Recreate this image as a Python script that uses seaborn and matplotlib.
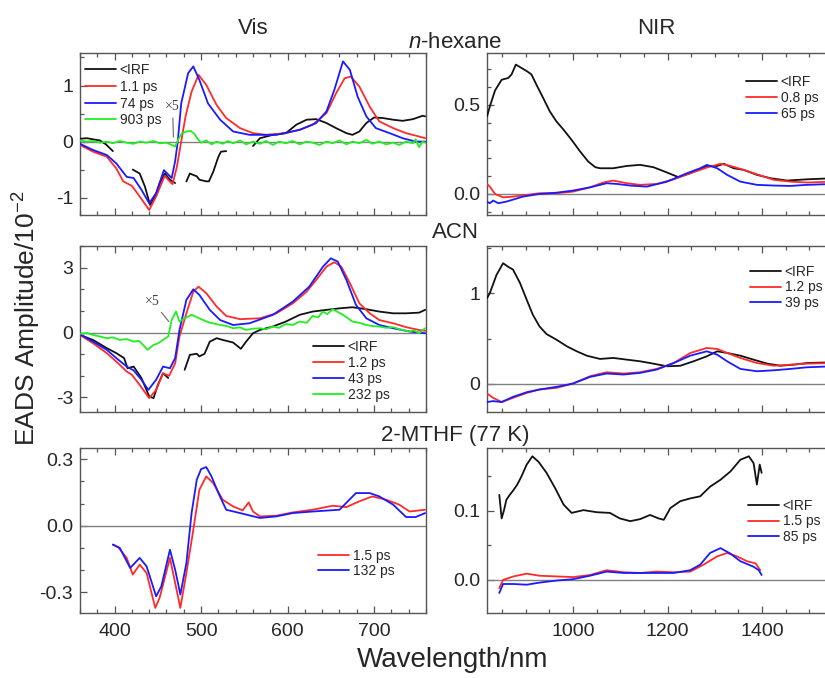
import matplotlib
matplotlib.use("Agg")
import matplotlib.pyplot as plt
import seaborn as sns
from matplotlib.lines import Line2D
from matplotlib.ticker import MultipleLocator, FormatStrFormatter

sns.set_style("ticks")
plt.rcParams["font.family"] = ["Liberation Sans", "DejaVu Sans"]
plt.rcParams["axes.unicode_minus"] = False
plt.rcParams["mathtext.fontset"] = "custom"
plt.rcParams["mathtext.rm"] = "Liberation Sans"
plt.rcParams["mathtext.it"] = "Liberation Sans:italic"

# ---------------- n-hexane, visible ----------------
hexv_labels = ["<IRF", "1.1 ps", "74 ps", "903 ps"]
hexv_irf_wl = [[360, 368, 375, 383, 390, 398],
               [421, 429, 435, 441, 447, 452, 458, 464, 470],
               [483, 487, 495, 498, 506, 509, 514, 520, 523, 529],
               [560, 568, 583, 598, 610, 622, 633, 645, 656, 668, 675, 683, 691, 700, 710, 722, 733, 745, 756, 759]]
hexv_irf_amp = [[0.05, 0.06, 0.04, 0.02, -0.05, -0.17],
                [-0.5, -0.57, -0.80, -1.13, -0.98, -0.75, -0.57, -0.68, -0.74],
                [-0.71, -0.57, -0.62, -0.68, -0.71, -0.71, -0.54, -0.27, -0.18, -0.17],
                [-0.08, 0.06, 0.12, 0.15, 0.30, 0.39, 0.40, 0.33, 0.24, 0.15, 0.12, 0.18, 0.33, 0.43, 0.42, 0.39, 0.37, 0.40, 0.46, 0.45]]
hexv_fast_wl = [360, 375, 391, 402, 410, 420, 429, 440, 448, 458, 463, 467, 472, 477, 482, 489, 497, 506, 518, 529,
                545, 560, 575, 598, 614, 629, 645, 656, 666, 673, 683, 695, 706, 722, 737, 752, 759]
hexv_fast_amp = [-0.06, -0.18, -0.27, -0.48, -0.71, -0.79, -0.98, -1.22, -0.98, -0.61, -0.70, -0.76, -0.45, 0.0, 0.45,
                 0.89, 1.19, 1.01, 0.65, 0.42, 0.24, 0.15, 0.12, 0.15, 0.21, 0.30, 0.51, 0.86, 1.13, 1.16, 0.98, 0.62,
                 0.36, 0.24, 0.15, 0.09, 0.06]
hexv_mid_wl = [360, 375, 391, 402, 414, 422, 431, 440, 448, 457, 466, 470, 473, 477, 485, 491, 498, 508, 522, 537,
               556, 587, 614, 633, 645, 654, 664, 672, 681, 691, 702, 718, 733, 748, 759]
hexv_mid_amp = [-0.04, -0.15, -0.24, -0.39, -0.63, -0.65, -0.86, -1.10, -0.92, -0.51, -0.65, -0.35, 0.0, 0.68, 1.22,
                1.34, 1.10, 0.68, 0.39, 0.18, 0.12, 0.12, 0.21, 0.33, 0.54, 0.92, 1.43, 1.28, 0.80, 0.45, 0.24, 0.15,
                0.06, 0.0, 0.0]
hexv_slow_wl = [360, 368, 375, 383, 391, 398, 406, 414, 422, 429, 437, 445, 452, 460, 466, 470, 474, 478, 483, 488,
                492, 496, 500, 506, 512, 518, 525, 531, 537, 545, 552, 560, 568, 575, 583, 590, 598, 606, 614, 622,
                629, 637, 645, 652, 660, 668, 675, 683, 691, 698, 706, 714, 722, 729, 737, 745, 748, 752, 756, 759]
hexv_slow_amp = [0.02, 0.0, 0.01, -0.02, 0.0, -0.03, 0.01, -0.02, -0.04, 0.0, -0.02, 0.01, -0.03, -0.02, -0.06, -0.09,
                 0.05, 0.15, 0.18, 0.19, 0.14, 0.05, -0.02, 0.02, -0.05, 0.0, -0.04, 0.01, -0.03, 0.02, -0.05, 0.0,
                 -0.04, 0.01, -0.06, 0.0, -0.03, 0.01, -0.05, 0.0, -0.02, -0.06, 0.0, -0.03, 0.02, -0.05, 0.0, -0.03,
                 0.03, -0.04, 0.0, -0.05, -0.02, -0.06, 0.0, -0.03, 0.04, -0.10, 0.0, -0.02]

# ---------------- ACN, visible ----------------
acnv_labels = ["<IRF", "1.2 ps", "43 ps", "232 ps"]
acnv_irf_wl = [[360, 375, 391, 402, 411, 415, 422, 431, 440, 445, 450, 456, 462],
               [481, 487, 495, 498, 504, 510, 518, 525, 537, 546, 552, 560, 568, 583, 598, 614, 629, 645, 660, 675,
                691, 706, 722, 737, 752, 759]]
acnv_irf_amp = [[-0.11, -0.34, -0.72, -0.95, -1.18, -1.65, -1.57, -2.1, -2.95, -3.03, -2.42, -1.88, -2.1],
                [-1.72, -1.03, -0.98, -1.1, -0.98, -0.42, -0.26, -0.34, -0.46, -0.75, -0.42, -0.03, 0.12, 0.28,
                 0.51, 0.82, 0.97, 1.05, 1.12, 1.17, 1.08, 0.97, 0.89, 0.89, 0.92, 1.05]]
acnv_fast_wl = [360, 375, 391, 402, 414, 420, 429, 440, 448, 456, 463, 470, 475, 483, 491, 497, 506, 518, 529, 545,
                568, 587, 606, 622, 633, 645, 654, 662, 672, 683, 695, 706, 722, 737, 752, 759]
acnv_fast_amp = [-0.11, -0.49, -0.95, -1.34, -1.8, -1.95, -2.42, -3.03, -2.65, -1.88, -2.0, -1.42, -0.18, 0.89, 1.89,
                 2.12, 1.82, 1.2, 0.77, 0.62, 0.66, 0.89, 1.35, 1.89, 2.43, 3.05, 3.25, 3.05, 2.28, 1.35, 0.89, 0.58,
                 0.43, 0.25, 0.12, 0.08]
acnv_mid_wl = [360, 375, 391, 402, 414, 422, 431, 439, 448, 456, 464, 470, 475, 483, 491, 498, 510, 522, 537, 556,
               583, 606, 625, 641, 650, 658, 668, 679, 691, 706, 722, 741, 759]
acnv_mid_amp = [-0.08, -0.42, -0.8, -1.18, -1.57, -1.75, -2.18, -2.65, -2.18, -1.57, -1.65, -1.18, 0.12, 1.51, 2.0,
                1.74, 1.05, 0.58, 0.35, 0.43, 0.82, 1.43, 2.12, 3.05, 3.43, 3.28, 2.43, 1.28, 0.66, 0.35, 0.2, 0.05,
                -0.03]
acnv_slow_wl = [360, 368, 375, 383, 391, 398, 406, 414, 422, 428, 433, 438, 445, 450, 456, 462, 466, 471, 475, 481,
                489, 498, 504, 510, 522, 530, 537, 545, 552, 560, 568, 575, 583, 590, 598, 606, 614, 622, 629, 635,
                641, 646, 652, 658, 664, 675, 683, 691, 698, 706, 714, 722, 730, 741, 746, 752, 759]
acnv_slow_amp = [-0.06, -0.02, -0.11, -0.18, -0.26, -0.22, -0.34, -0.30, -0.42, -0.38, -0.57, -0.8, -0.57, -0.50,
                 -0.34, -0.18, 0.58, 0.97, 0.51, 0.66, 0.82, 0.66, 0.55, 0.46, 0.35, 0.30, 0.2, 0.24, 0.12, 0.18, 0.2,
                 0.15, 0.28, 0.22, 0.4, 0.35, 0.51, 0.45, 0.77, 0.70, 0.97, 0.85, 1.08, 0.95, 0.82, 0.51, 0.45, 0.35,
                 0.30, 0.28, 0.22, 0.25, 0.15, 0.05, 0.10, -0.03, 0.2]

# ---------------- 2-MTHF (77 K), visible ----------------
mthv_labels = ["1.5 ps", "132 ps"]
mthv_fast_wl = [398, 404, 414, 421, 429, 437, 447, 452, 464, 470, 476, 483, 491, 498, 506, 514, 525, 537, 548, 555,
                560, 568, 587, 606, 629, 652, 668, 683, 698, 714, 729, 741, 759]
mthv_fast_amp = [-0.085, -0.096, -0.145, -0.22, -0.175, -0.213, -0.37, -0.325, -0.145, -0.258, -0.37, -0.213, -0.018,
                 0.162, 0.222, 0.192, 0.117, 0.087, 0.069, 0.105, 0.064, 0.042, 0.045, 0.06, 0.072, 0.09, 0.084, 0.11,
                 0.132, 0.117, 0.095, 0.064, 0.072]
mthv_slow_wl = [398, 406, 418, 429, 437, 448, 454, 464, 470, 476, 483, 489, 495, 500, 506, 512, 520, 529, 545, 568,
                587, 606, 629, 660, 679, 695, 706, 722, 737, 748, 759]
mthv_slow_amp = [-0.085, -0.1, -0.19, -0.145, -0.183, -0.318, -0.273, -0.108, -0.198, -0.31, -0.168, 0.057, 0.207,
                 0.255, 0.264, 0.222, 0.147, 0.072, 0.057, 0.035, 0.042, 0.057, 0.064, 0.072, 0.147, 0.147, 0.132,
                 0.095, 0.039, 0.039, 0.057]

# ---------------- n-hexane, near infrared ----------------
hexn_labels = ["<IRF", "0.8 ps", "65 ps"]
hexn_irf_wl = [818, 824, 835, 849, 863, 870, 879, 891, 903, 912, 923, 937, 951, 965, 980, 997, 1015, 1032, 1047,
               1057, 1085, 1114, 1142, 1170, 1199, 1223, 1248, 1273, 1287, 1305, 1319, 1340, 1361, 1389, 1418, 1453,
               1495, 1550]
hexn_irf_amp = [0.434, 0.49, 0.58, 0.64, 0.65, 0.67, 0.725, 0.706, 0.687, 0.67, 0.61, 0.537, 0.462, 0.406, 0.36,
                0.303, 0.238, 0.182, 0.15, 0.144, 0.144, 0.157, 0.163, 0.15, 0.12, 0.094, 0.116, 0.144, 0.157, 0.157,
                0.169, 0.144, 0.135, 0.107, 0.088, 0.075, 0.082, 0.088]
hexn_fast_wl = [818, 824, 835, 852, 873, 901, 929, 965, 1000, 1036, 1064, 1085, 1114, 1142, 1177, 1213, 1248, 1283,
                1312, 1333, 1361, 1389, 1425, 1460, 1495, 1550]
hexn_fast_amp = [0.056, 0.041, 0.0, -0.019, -0.015, -0.006, 0.004, 0.004, 0.013, 0.037, 0.064, 0.075, 0.06, 0.051,
                 0.056, 0.082, 0.116, 0.148, 0.169, 0.157, 0.135, 0.11, 0.079, 0.069, 0.064, 0.069]
hexn_slow_wl = [818, 824, 831, 842, 859, 894, 929, 965, 1000, 1036, 1071, 1093, 1121, 1156, 1199, 1241, 1269, 1283,
                1305, 1326, 1354, 1389, 1425, 1460, 1495, 1550]
hexn_slow_amp = [-0.043, -0.052, -0.037, -0.052, -0.043, -0.015, 0.0, 0.007, 0.019, 0.037, 0.06, 0.056, 0.047, 0.041,
                 0.069, 0.116, 0.144, 0.163, 0.144, 0.107, 0.069, 0.051, 0.047, 0.045, 0.051, 0.056]

# ---------------- ACN, near infrared ----------------
acnn_labels = ["<IRF", "1.2 ps", "39 ps"]
acnn_irf_wl = [818, 824, 838, 852, 863, 873, 888, 902, 915, 929, 944, 965, 987, 1008, 1029, 1057, 1085, 1114, 1142,
               1170, 1199, 1227, 1255, 1283, 1305, 1326, 1354, 1382, 1411, 1439, 1467, 1495, 1550]
acnn_irf_amp = [0.945, 1.0, 1.2, 1.33, 1.29, 1.26, 1.11, 0.927, 0.762, 0.634, 0.549, 0.487, 0.414, 0.359, 0.311,
                0.275, 0.286, 0.267, 0.249, 0.223, 0.194, 0.2, 0.249, 0.304, 0.359, 0.341, 0.311, 0.267, 0.223, 0.2,
                0.212, 0.23, 0.238]
acnn_fast_wl = [818, 831, 849, 873, 902, 929, 965, 1000, 1036, 1071, 1107, 1142, 1177, 1213, 1248, 1283, 1305, 1326,
                1354, 1389, 1425, 1460, 1495, 1550]
acnn_fast_amp = [-0.106, -0.154, -0.2, -0.154, -0.1, -0.062, -0.044, 0.004, 0.084, 0.128, 0.114, 0.128, 0.165, 0.23,
                 0.34, 0.396, 0.385, 0.341, 0.286, 0.23, 0.2, 0.212, 0.223, 0.23]
acnn_slow_wl = [818, 831, 849, 873, 902, 929, 965, 1000, 1036, 1071, 1107, 1142, 1177, 1213, 1248, 1283, 1305, 1326,
                1354, 1389, 1425, 1460, 1495, 1550]
acnn_slow_amp = [-0.2, -0.19, -0.2, -0.143, -0.092, -0.062, -0.033, 0.004, 0.077, 0.114, 0.103, 0.121, 0.158, 0.23,
                 0.311, 0.359, 0.322, 0.249, 0.165, 0.139, 0.15, 0.165, 0.183, 0.194]

# ---------------- 2-MTHF (77 K), near infrared ----------------
mthn_labels = ["<IRF", "1.5 ps", "85 ps"]
mthn_irf_wl = [844, 849, 854, 859, 866, 874, 882, 891, 902, 914, 927, 944, 962, 980, 997, 1022, 1050, 1078, 1099,
               1121, 1142, 1163, 1181, 1192, 1206, 1227, 1248, 1269, 1290, 1312, 1333, 1354, 1372, 1382, 1389, 1395,
               1399]
mthn_irf_amp = [0.123, 0.089, 0.101, 0.116, 0.123, 0.13, 0.138, 0.15, 0.167, 0.179, 0.171, 0.155, 0.133, 0.109,
                0.097, 0.101, 0.098, 0.097, 0.089, 0.085, 0.088, 0.094, 0.089, 0.087, 0.104, 0.114, 0.118, 0.121,
                0.135, 0.145, 0.157, 0.174, 0.179, 0.169, 0.138, 0.167, 0.155]
mthn_fast_wl = [844, 852, 874, 902, 929, 965, 1000, 1036, 1071, 1107, 1142, 1177, 1213, 1248, 1276, 1305, 1326, 1347,
                1368, 1386, 1396]
mthn_fast_amp = [-0.012, 0.0, 0.005, 0.009, 0.006, 0.005, 0.004, 0.007, 0.014, 0.011, 0.01, 0.012, 0.011, 0.012,
                 0.022, 0.034, 0.039, 0.034, 0.027, 0.024, 0.014]
mthn_slow_wl = [844, 852, 874, 902, 929, 965, 1000, 1036, 1071, 1107, 1142, 1177, 1213, 1248, 1269, 1290, 1312, 1333,
                1354, 1382, 1393, 1399]
mthn_slow_amp = [-0.019, -0.006, -0.006, -0.007, -0.004, -0.001, 0.001, 0.006, 0.012, 0.01, 0.01, 0.01, 0.01, 0.014,
                 0.022, 0.039, 0.046, 0.038, 0.027, 0.019, 0.014, 0.007]

BLACK, RED, BLUE, GREEN = "#111111", "#ff2a2a", "#1a1aff", "#22ee22"
AXC = "#555555"
LW = 1.3

fig = plt.figure(figsize=(8.25, 6.78), dpi=100)
W, H = 825.0, 678.0


def make_axes(left, top, width, height):
    return fig.add_axes([left / W, 1 - (top + height) / H, width / W, height / H])


def trace(ax, wl, amp, color):
    sns.lineplot(x=wl, y=amp, ax=ax, color=color, lw=LW, sort=False, estimator=None, legend=False, zorder=3)


def style(ax, xlim, ylim, xmaj, xmin, ymaj, ymin, yfmt, show_x):
    ax.set_xlim(*xlim)
    ax.set_ylim(*ylim)
    ax.axhline(0, color="#808080", lw=1.0, zorder=1)
    ax.xaxis.set_major_locator(MultipleLocator(xmaj))
    ax.xaxis.set_minor_locator(MultipleLocator(xmin))
    ax.yaxis.set_major_locator(MultipleLocator(ymaj))
    ax.yaxis.set_minor_locator(MultipleLocator(ymin))
    ax.yaxis.set_major_formatter(FormatStrFormatter(yfmt))
    ax.tick_params(which="both", direction="in", top=True, right=False, color=AXC, labelsize=14, width=0.9)
    ax.tick_params(which="major", length=5, pad=5)
    ax.tick_params(which="minor", length=3)
    ax.tick_params(axis="x", which="major", pad=7)
    if not show_x:
        ax.tick_params(axis="x", labelbottom=False)
    for s in ax.spines.values():
        s.set_color(AXC)
        s.set_linewidth(1.0)
    ax.set_xlabel("")
    ax.set_ylabel("")


def add_legend(ax, colors, labels, x, y, spacing):
    handles = [Line2D([], [], color=c, lw=LW) for c in colors]
    ax.legend(handles, labels, loc="upper left", bbox_to_anchor=(x / W, 1 - y / H),
              bbox_transform=fig.transFigure, frameon=False, fontsize=10, handlelength=2.2,
              handletextpad=0.3, borderpad=0, borderaxespad=0, labelspacing=spacing)


LEFT_X, RIGHT_X, PW = 80, 487, 346
rows = [(53, 162), (246, 166), (448, 165)]
VIS_LIM, NIR_LIM = (360, 760), (818, 1550)

# n-hexane, Vis
ax = make_axes(LEFT_X, rows[0][0], PW, rows[0][1])
for wl, amp in zip(hexv_irf_wl, hexv_irf_amp):
    trace(ax, wl, amp, BLACK)
trace(ax, hexv_fast_wl, hexv_fast_amp, RED)
trace(ax, hexv_mid_wl, hexv_mid_amp, BLUE)
trace(ax, hexv_slow_wl, hexv_slow_amp, GREEN)
style(ax, VIS_LIM, (-1.31, 1.58), 100, 20, 1, 0.5, "%d", False)
add_legend(ax, [BLACK, RED, BLUE, GREEN], hexv_labels, 85, 63, 0.2)
ax.annotate("×5", xy=(468, 0.08), xytext=(467, 0.62), fontsize=10, family="Liberation Serif", color="#444444",
            ha="center", va="center",
            arrowprops=dict(arrowstyle="-", color="#666666", lw=0.8, shrinkA=1, shrinkB=0))

# ACN, Vis
ax = make_axes(LEFT_X, rows[1][0], PW, rows[1][1])
for wl, amp in zip(acnv_irf_wl, acnv_irf_amp):
    trace(ax, wl, amp, BLACK)
trace(ax, acnv_fast_wl, acnv_fast_amp, RED)
trace(ax, acnv_mid_wl, acnv_mid_amp, BLUE)
trace(ax, acnv_slow_wl, acnv_slow_amp, GREEN)
style(ax, VIS_LIM, (-3.67, 4.0), 100, 20, 3, 1, "%d", False)
add_legend(ax, [BLACK, RED, BLUE, GREEN], acnv_labels, 313, 340, 0.15)
ax.annotate("×5", xy=(462.6, 0.51), xytext=(444, 1.44), fontsize=10, family="Liberation Serif", color="#444444",
            ha="center", va="center",
            arrowprops=dict(arrowstyle="-", color="#666666", lw=0.8, shrinkA=1, shrinkB=0))

# 2-MTHF, Vis
ax = make_axes(LEFT_X, rows[2][0], PW, rows[2][1])
trace(ax, mthv_fast_wl, mthv_fast_amp, RED)
trace(ax, mthv_slow_wl, mthv_slow_amp, BLUE)
style(ax, VIS_LIM, (-0.393, 0.35), 100, 20, 0.3, 0.1, "%.1f", True)
add_legend(ax, [RED, BLUE], mthv_labels, 318, 549, 0.08)

# n-hexane, NIR
ax = make_axes(RIGHT_X, rows[0][0], PW, rows[0][1])
trace(ax, hexn_irf_wl, hexn_irf_amp, BLACK)
trace(ax, hexn_fast_wl, hexn_fast_amp, RED)
trace(ax, hexn_slow_wl, hexn_slow_amp, BLUE)
style(ax, NIR_LIM, (-0.118, 0.79), 200, 50, 0.5, 0.1, "%.1f", False)
add_legend(ax, [BLACK, RED, BLUE], hexn_labels, 746, 75, 0.15)

# ACN, NIR
ax = make_axes(RIGHT_X, rows[1][0], PW, rows[1][1])
trace(ax, acnn_irf_wl, acnn_irf_amp, BLACK)
trace(ax, acnn_fast_wl, acnn_fast_amp, RED)
trace(ax, acnn_slow_wl, acnn_slow_amp, BLUE)
style(ax, NIR_LIM, (-0.31, 1.52), 200, 50, 1, 0.5, "%d", False)
add_legend(ax, [BLACK, RED, BLUE], acnn_labels, 750, 265, 0.1)

# 2-MTHF, NIR
ax = make_axes(RIGHT_X, rows[2][0], PW, rows[2][1])
trace(ax, mthn_irf_wl, mthn_irf_amp, BLACK)
trace(ax, mthn_fast_wl, mthn_fast_amp, RED)
trace(ax, mthn_slow_wl, mthn_slow_amp, BLUE)
style(ax, NIR_LIM, (-0.048, 0.191), 200, 50, 0.1, 0.05, "%.1f", True)
add_legend(ax, [BLACK, RED, BLUE], mthn_labels, 748, 499, 0.1)

# Column, solvent and axis titles
fig.text(253 / W, 1 - 28 / H, "Vis", fontsize=16, ha="center", va="center")
fig.text(656 / W, 1 - 28 / H, "NIR", fontsize=16, ha="center", va="center")
fig.text(455 / W, 1 - 42 / H, "$n$-hexane", fontsize=16, ha="center", va="center")
fig.text(455 / W, 1 - 233 / H, "ACN", fontsize=16, ha="center", va="center")
fig.text(455 / W, 1 - 436 / H, "2-MTHF (77 K)", fontsize=16, ha="center", va="center")
fig.text(27 / W, 1 - 318 / H, "EADS Amplitude/10$^{-2}$", fontsize=19, rotation=90, ha="center", va="center")
fig.text(453 / W, 1 - 660 / H, "Wavelength/nm", fontsize=20, ha="center", va="center")

fig.savefig("out.png", dpi=100)
